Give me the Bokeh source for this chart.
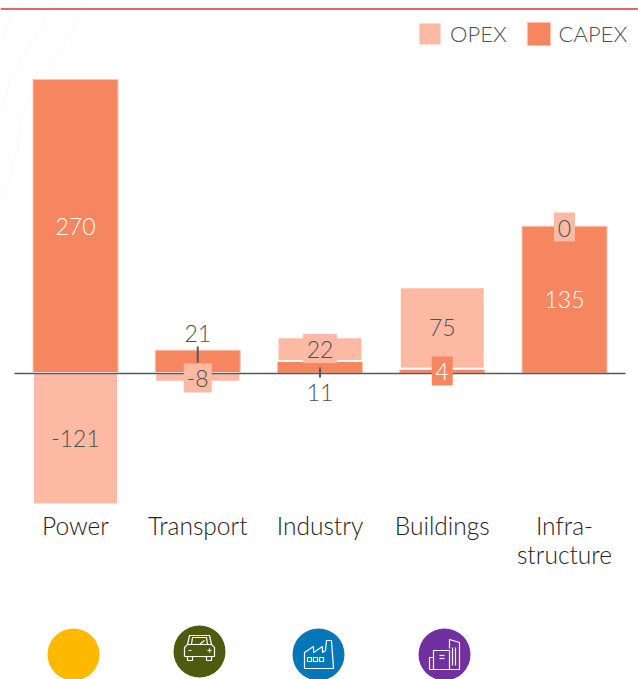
from bokeh.plotting import figure
from bokeh.models import ColumnDataSource, LinearAxis, FixedTicker, Legend, LegendItem, Range1d, Span
from bokeh.core.properties import value
from bokeh.embed import file_html
from bokeh.resources import INLINE

categories = ["Power", "Transport", "Industry", "Buildings", "Infra-\nstructure"]
capex = [270, 21, 11, 4, 135]
opex = [-121, -8, 22, 75, 0]
icon_colors = ["#FDB900", "#4E5B0F", "#0477B8", "#7030A0"]

CAPEX_C = "#F6865F"
OPEX_C = "#FCB9A4"
TEXT_C = "#4F4F4F"
FONT = "Lato Light"

W, H = 638, 679
PX_PER_UNIT = 1.087
STEP = 122.25
BAR_W = 85 / STEP


def dy(py):
    return (372.5 - py) / PX_PER_UNIT


def dx(px):
    return (px - 75) / STEP


p = figure(
    width=W, height=H, output_backend="svg", toolbar_location=None,
    x_axis_type=None, y_axis_type=None,
    x_range=Range1d(dx(0), dx(W)), y_range=Range1d(dy(H), dy(0)),
    min_border=0, outline_line_color=None, background_fill_color="white",
)
p.grid.visible = False

# faint background contours
contours = [
    [(18, 0), (8, 22), (0, 40)],
    [(52, 0), (43, 25), (22, 55), (10, 80), (0, 110)],
    [(85, 0), (70, 33), (43, 77), (20, 117), (17, 150), (8, 180), (0, 200)],
]
p.multi_line(xs=[[dx(a) for a, _ in c] for c in contours], ys=[[dy(b) for _, b in c] for c in contours],
             line_color="#F8F8F8", line_width=1)

xs = list(range(len(categories)))

opex_bottom = [c if o > 0 else 0 for c, o in zip(capex, opex)]
opex_top = [c + o if o > 0 else o for c, o in zip(capex, opex)]

r_capex = p.vbar(x=xs, bottom=0, top=capex, width=BAR_W, fill_color=CAPEX_C, line_color="#FBC4B0", line_width=1)
r_opex = p.vbar(x=[x for x, o in zip(xs, opex) if o != 0],
                bottom=[b for b, o in zip(opex_bottom, opex) if o != 0],
                top=[t for t, o in zip(opex_top, opex) if o != 0],
                width=BAR_W, fill_color=OPEX_C, line_color="white", line_width=2)

axis = LinearAxis(
    fixed_location=0, ticker=FixedTicker(ticks=xs),
    major_label_overrides={i: c for i, c in enumerate(categories)},
    major_tick_line_color=None, minor_tick_line_color=None,
    axis_line_color="#595959", axis_line_width=1.6,
    major_label_text_font=FONT, major_label_text_font_size="24.5px",
    major_label_text_color="#222222", major_label_standoff=132,
    major_label_text_line_height=1.0,
    bounds=(-0.5, 4.5), level="guide",
)
p.add_layout(axis, "below")

p.segment(x0=[1, 2], x1=[1, 2], y0=[dy(346), dy(367)], y1=[dy(362), dy(377)],
          line_color="#595959", line_width=2)

box_src = ColumnDataSource(dict(
    x=[1, 2, 3, 4],
    y=[dy(377.5), dy(348), dy(370.5), dy(226.5)],
    w=[28, 34, 21, 21],
    h=[29, 29, 29, 29],
    c=[OPEX_C, OPEX_C, CAPEX_C, OPEX_C],
))
r_box = p.rect(x="x", y="y", width="w", height="h", width_units="screen", height_units="screen",
               fill_color="c", line_color=None, source=box_src)
r_box.level = "annotation"

lab_src = ColumnDataSource(dict(
    x=[0, 0, 1, 1, 2, 2, 3, 3, 4, 4],
    y=[capex[0] / 2, opex[0] / 2, dy(333), dy(378), dy(392), dy(349), dy(370.5), capex[3] + opex[3] / 2, capex[4] / 2, dy(227.5)],
    t=[str(v) for v in [capex[0], opex[0], capex[1], opex[1], capex[2], opex[2], capex[3], opex[3], capex[4], opex[4]]],
    c=["white", TEXT_C, TEXT_C, TEXT_C, TEXT_C, TEXT_C, "white", TEXT_C, "white", TEXT_C],
))
r_lab = p.text(x="x", y="y", text="t", text_color="c", text_font=value(FONT), text_font_size="23px",
               text_align="center", text_baseline="middle", source=lab_src)
r_lab.level = "annotation"

p.add_layout(Span(location=dy(8.6), dimension="width", line_color="#D9333F", line_width=1.5))

legend = Legend(
    items=[LegendItem(label="OPEX", renderers=[r_opex]), LegendItem(label="CAPEX", renderers=[r_capex])],
    orientation="horizontal", location=(415, 631), padding=0, margin=0, spacing=17,
    glyph_width=29, glyph_height=29, label_standoff=6,
    label_text_font=FONT, label_text_font_size="22px", label_text_color=TEXT_C,
    background_fill_alpha=0, border_line_color=None,
)
p.add_layout(legend, "center")

icon_px = [(73, 654), (199, 651), (318, 654), (444, 654)]
p.scatter(x=[dx(a) for a, _ in icon_px], y=[dy(b) for _, b in icon_px], size=52,
          marker="circle", fill_color=icon_colors, line_color=None)


def icon(cx, cy, paths):
    p.multi_line(xs=[[dx(cx + a) for a, _ in path] for path in paths],
                 ys=[[dy(cy + b) for _, b in path] for path in paths],
                 line_color="white", line_width=1.2)


car = [
    [(-15, 5), (-15, -4), (-12, -7), (-10, -16), (10, -16), (12, -7), (15, -4), (15, 5), (-15, 5)],
    [(-12, -7), (12, -7)],
    [(-8, -7), (-7, -14), (7, -14), (8, -7)],
    [(0, -7), (5, -11)],
    [(-11, -1), (-8, -1)], [(8, -1), (12, -1)], [(10, -3), (10, 1)],
    [(-12, 5), (-12, 9), (-7, 9), (-7, 5)], [(7, 5), (7, 9), (12, 9), (12, 5)],
]
icon(199, 651, car)
factory = [
    [(-14, 14), (-14, -2), (-5, -8), (-5, -2), (4, -8), (4, -2), (7, -4), (8, -14), (13, -14), (15, 14), (-14, 14)],
    [(-11, 3), (-7, 3), (-7, 7), (-11, 7), (-11, 3)],
    [(-5, 3), (-1, 3), (-1, 7), (-5, 7), (-5, 3)],
    [(1, 3), (5, 3), (5, 7), (1, 7), (1, 3)],
]
icon(318, 654, factory)
building = [
    [(-15, 15), (-15, 3), (-11, 3)],
    [(-15, 15), (15, 15), (15, -12), (5, -15), (5, -6)],
    [(-11, 15), (-11, -4), (5, -4), (5, 15)],
    [(-5, 1), (0, 1)], [(-5, 4), (0, 4)],
    [(8, -7), (8, 11)], [(11, -7), (11, 11)],
]
icon(444, 654, building)

open("out.html", "w").write(file_html(p, INLINE))
